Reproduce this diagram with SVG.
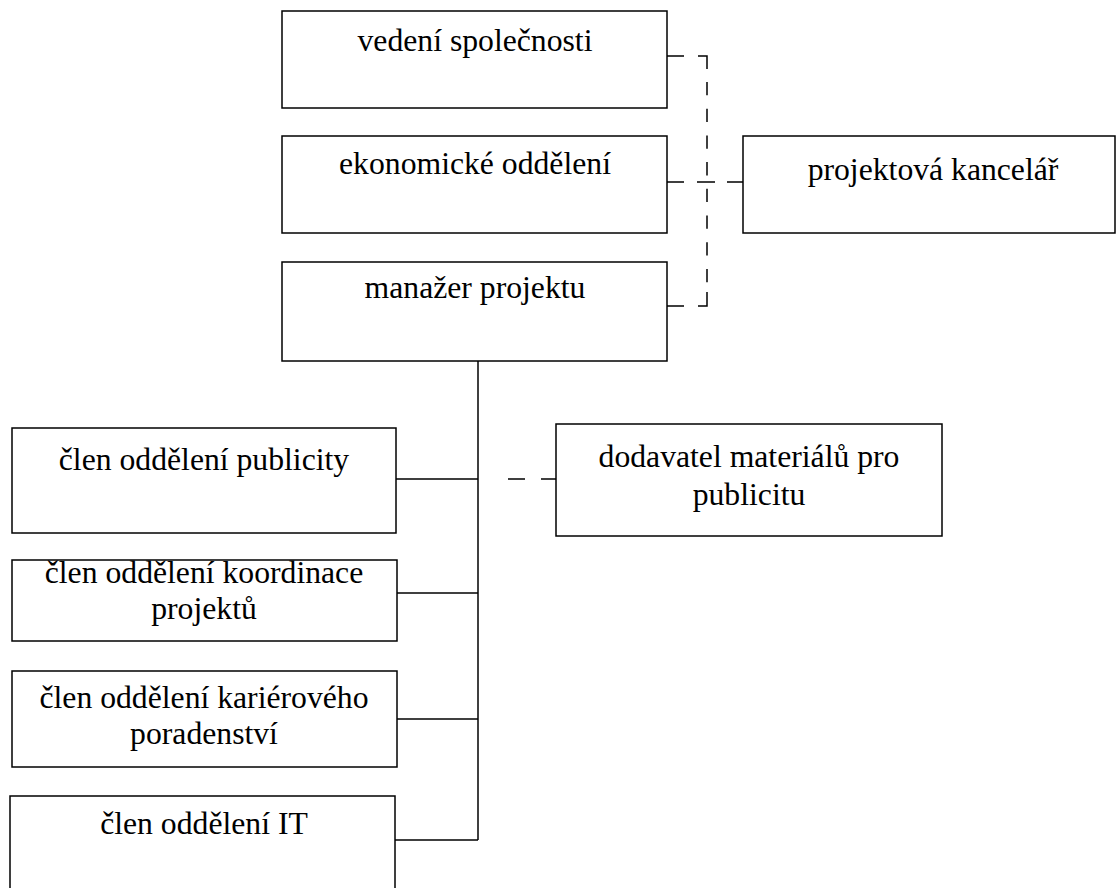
<svg xmlns="http://www.w3.org/2000/svg" width="1116" height="888" viewBox="0 0 1116 888">
<style>
.box{fill:#fff;stroke:#000;stroke-width:1.5}
.t{font-family:'Liberation Serif','Times New Roman',Tinos,'DejaVu Serif',serif;font-size:31.7px;fill:#000;text-anchor:middle}
.solid{fill:none;stroke:#000;stroke-width:1.5}
.vd{fill:none;stroke:#000;stroke-width:1.5;stroke-dasharray:13.3 13.4}
</style>
<rect width="1116" height="888" fill="#fff"/>
<g id="connectors">
<path class="solid" d="M667,56 H684 M698,56 H707 V69 M707,292 V306 H698 M684,306 H667"/>
<path class="vd" d="M707,82 V292"/>
<path class="solid" d="M667,182 H684 M697,182 H715 M727,182 H743"/>
<path class="solid" d="M478,361 V840"/>
<path class="solid" d="M396,479 H478 M508,479 H525 M541,479 H556"/>
<path class="solid" d="M397,593 H478"/>
<path class="solid" d="M397,719 H478"/>
<path class="solid" d="M395,840 H478"/>
</g>
<g font-family="Liberation Serif, serif">
<g id="vedeni"><rect class="box" x="282" y="11" width="385" height="97"/><text class="t" x="475" y="51">vedení společnosti</text></g>
<g id="ekonomicke"><rect class="box" x="282" y="136" width="385" height="97"/><text class="t" x="475" y="174">ekonomické oddělení</text></g>
<g id="manazer"><rect class="box" x="282" y="262" width="385" height="99"/><text class="t" x="475" y="298">manažer projektu</text></g>
<g id="kancelar"><rect class="box" x="743" y="136" width="372" height="97"/><text class="t" x="933" y="180">projektová kancelář</text></g>
<g id="publicity"><rect class="box" x="12" y="428" width="384" height="105"/><text class="t" x="204" y="470">člen oddělení publicity</text></g>
<g id="dodavatel"><rect class="box" x="556" y="424" width="386" height="112"/><text class="t" x="749" y="467">dodavatel materiálů pro</text><text class="t" x="749" y="505">publicitu</text></g>
<g id="koordinace"><rect class="box" x="12" y="560" width="385" height="81"/><text class="t" x="204" y="583">člen oddělení koordinace</text><text class="t" x="204" y="619">projektů</text></g>
<g id="karierove"><rect class="box" x="12" y="671" width="385" height="96"/><text class="t" x="204" y="708">člen oddělení kariérového</text><text class="t" x="204" y="744">poradenství</text></g>
<g id="it"><rect class="box" x="10" y="796" width="385" height="100"/><text class="t" x="204" y="834">člen oddělení IT</text></g>
</g>
</svg>
